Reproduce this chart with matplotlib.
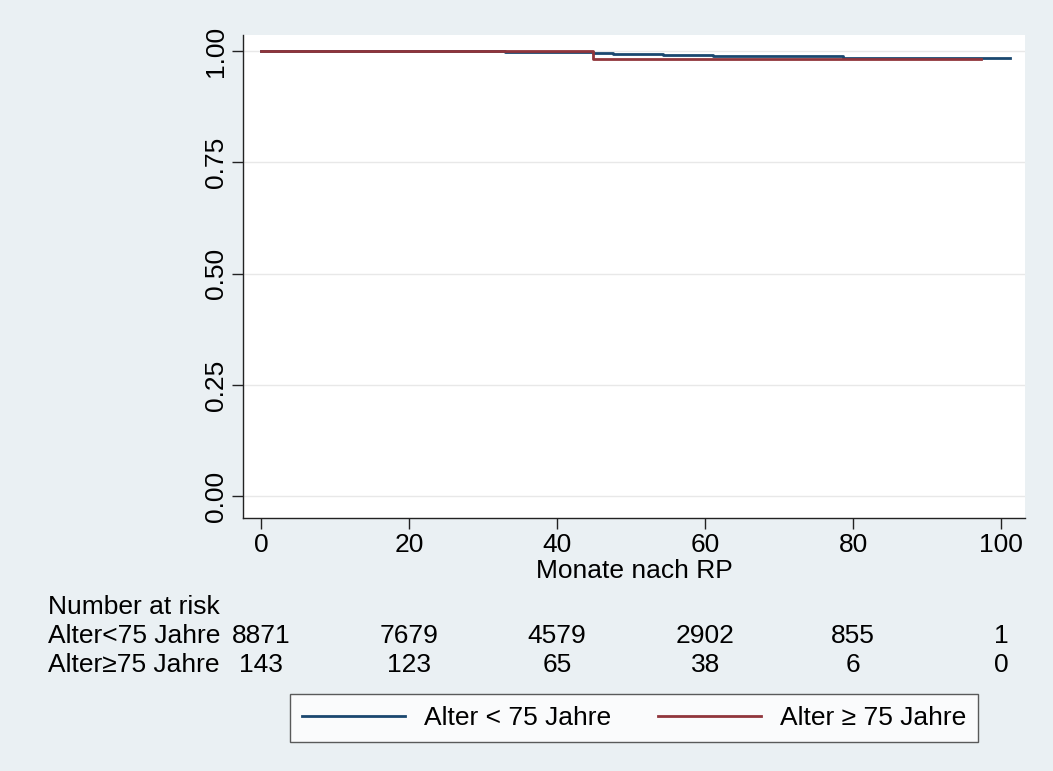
import matplotlib
matplotlib.use('Agg')
import matplotlib.pyplot as plt
from matplotlib.transforms import blended_transform_factory

plt.rcParams['font.family'] = ['Liberation Sans', 'DejaVu Sans']

# Kaplan-Meier step data (months, survival)
young_t = [0, 5.4, 33, 40, 44.9, 47.6, 54.3, 61, 72.8, 78.6, 101.2]
young_s = [1.0, 0.999, 0.998, 0.997, 0.995, 0.9925, 0.991, 0.989, 0.988, 0.985, 0.985]
old_t = [0, 5.4, 44.9, 97.2]
old_s = [1.0, 0.999, 0.983, 0.983]

risk_times = [0, 20, 40, 60, 80, 100]
risk_young = [8871, 7679, 4579, 2902, 855, 1]
risk_old = [143, 123, 65, 38, 6, 0]
group_labels = ['Alter<75 Jahre', 'Alter≥75 Jahre']
legend_labels = ['Alter < 75 Jahre', 'Alter ≥ 75 Jahre']

yticks = [0.0, 0.25, 0.5, 0.75, 1.0]
xticks = [0, 20, 40, 60, 80, 100]

bg = '#eaf0f3'
blue = '#1a476f'
red = '#90353b'
fs = 19

fig = plt.figure(figsize=(10.53, 7.71), dpi=100, facecolor=bg)
ax = fig.add_axes([243 / 1053, 1 - 518 / 771, (1025 - 243) / 1053, (518 - 35) / 771])
ax.set_facecolor('white')

ax.step(young_t, young_s, where='post', color=blue, lw=2, label=legend_labels[0])
ax.step(old_t, old_s, where='post', color=red, lw=2, label=legend_labels[1])

ax.set_xlim(-2.43, 103.2)
ax.set_ylim(-0.049, 1.036)
ax.set_yticks(yticks)
ax.set_yticklabels([f'{v:.2f}' for v in yticks], rotation=90, va='center', fontsize=fs)
ax.set_xticks(xticks)
ax.set_xticklabels([str(v) for v in xticks], fontsize=fs)
ax.grid(axis='y', color='#e8e8e8', lw=1)
ax.set_axisbelow(True)
for s in ['top', 'right']:
    ax.spines[s].set_visible(False)
for s in ['left', 'bottom']:
    ax.spines[s].set_color('#222222')
    ax.spines[s].set_linewidth(1.0)
ax.tick_params(length=8, width=1, color='#222222', pad=3)
ax.set_xlabel('Monate nach RP', fontsize=fs, labelpad=1)

# Number at risk table
tr = blended_transform_factory(ax.transData, fig.transFigure)
fig.text(48 / 1053, 1 - 607 / 771, 'Number at risk', fontsize=fs, va='center', ha='left')
for row, (lab, vals) in enumerate(zip(group_labels, [risk_young, risk_old])):
    y = 1 - (636 + 29 * row) / 771
    fig.text(48 / 1053, y, lab, fontsize=fs, va='center', ha='left')
    for t, v in zip(risk_times, vals):
        ax.text(t, y, str(v), transform=tr, fontsize=fs, va='center', ha='center')

leg = fig.legend(loc='center', bbox_to_anchor=(634 / 1053, 1 - 718 / 771), ncol=2,
                 fontsize=fs, frameon=True, fancybox=False, handlelength=3.9,
                 columnspacing=1.8, handletextpad=0.7, borderpad=0.45)
leg.get_frame().set_edgecolor('#333333')
leg.get_frame().set_linewidth(1.0)
leg.get_frame().set_facecolor('white')

fig.savefig('out.png', dpi=100, facecolor=bg)
